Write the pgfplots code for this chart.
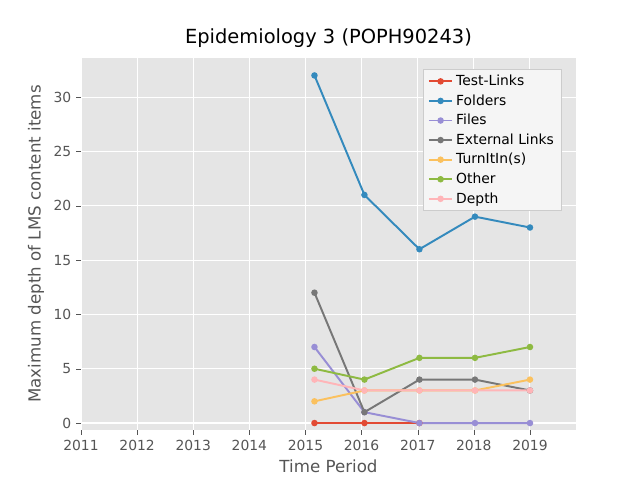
\documentclass[border=0pt]{standalone}
\usepackage{pgfplots}
\pgfplotsset{compat=1.18}
\usepackage{fontspec}
\setmainfont{DejaVu Sans}
\definecolor{c1}{HTML}{E24A33}
\definecolor{c2}{HTML}{348ABD}
\definecolor{c3}{HTML}{988ED5}
\definecolor{c4}{HTML}{777777}
\definecolor{c5}{HTML}{FBC15E}
\definecolor{c6}{HTML}{8EBA42}
\definecolor{c7}{HTML}{FFB5B8}
\definecolor{bg}{HTML}{E5E5E5}
\definecolor{tx}{HTML}{555555}
\begin{document}
\begin{tikzpicture}
\begin{axis}[at={(0,0)},anchor=south west,scale only axis,
 width=356.4pt,height=267.8pt,
 xmin=2011,xmax=2019.82,ymin=-0.64,ymax=33.6,
 xtick={2011,...,2019},ytick={0,5,...,30},
 /pgf/number format/1000 sep={},
 /pgf/number format/assume math mode=true,
 axis background/.style={fill=bg},axis line style={draw=none},
 grid=major,major grid style={white,line width=0.8pt},
 tick style={draw=tx},tick align=outside,major tick length=3.5pt,
 xtick pos=bottom,ytick pos=left,
 ticklabel style={font=\fontsize{10}{12}\selectfont,text=tx},
 xlabel={Time Period},ylabel={Maximum depth of LMS content items},
 label style={font=\fontsize{12}{14}\selectfont,text=tx},
 title={Epidemiology 3 (POPH90243)},title style={font=\fontsize{14}{16}\selectfont,yshift=-2pt},
 legend pos=north east,
 legend style={font=\fontsize{10}{12}\selectfont,fill=bg!40!white,draw=gray!40,row sep=1pt},
 legend cell align=left,
 every axis plot/.append style={line width=1.4pt,mark=*,mark size=1.6pt},
]
\addplot[c1] coordinates {(2015.16,0)(2016.05,0)(2017.03,0)};
\addlegendentry{Test-Links}
\addplot[c2] coordinates {(2015.16,32)(2016.05,21)(2017.03,16)(2018.02,19)(2019.0,18)};
\addlegendentry{Folders}
\addplot[c3] coordinates {(2015.16,7)(2016.05,1)(2017.03,0)(2018.02,0)(2019.0,0)};
\addlegendentry{Files}
\addplot[c4] coordinates {(2015.16,12)(2016.05,1)(2017.03,4)(2018.02,4)(2019.0,3)};
\addlegendentry{External Links}
\addplot[c5] coordinates {(2015.16,2)(2016.05,3)(2017.03,3)(2018.02,3)(2019.0,4)};
\addlegendentry{TurnItIn(s)}
\addplot[c6] coordinates {(2015.16,5)(2016.05,4)(2017.03,6)(2018.02,6)(2019.0,7)};
\addlegendentry{Other}
\addplot[c7] coordinates {(2015.16,4)(2016.05,3)(2017.03,3)(2018.02,3)(2019.0,3)};
\addlegendentry{Depth}
\end{axis}
\path[use as bounding box] (-58.32pt,-36pt) rectangle (402.48pt,309.6pt);
\end{tikzpicture}
\end{document}
